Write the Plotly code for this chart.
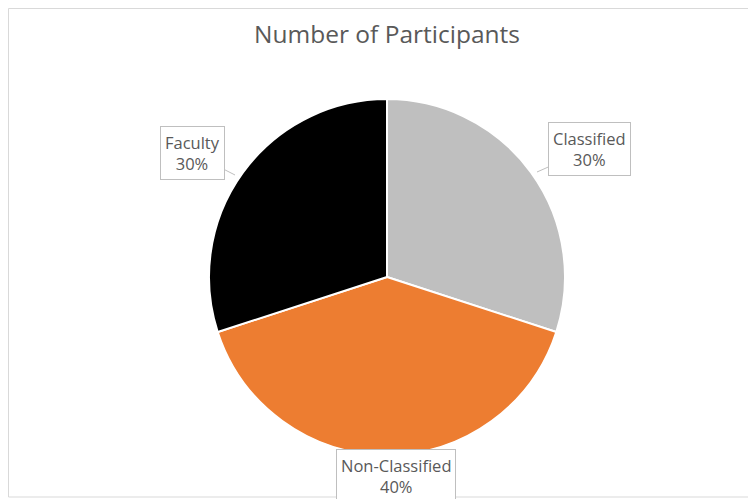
import plotly.graph_objects as go

categories = ["Classified", "Non-Classified", "Faculty"]
values = [30, 40, 30]
colors = ["#BFBFBF", "#ED7D31", "#000000"]
title_text = "Number of Participants"

W, H = 756, 499
OFF = 8  # page body margin offset (px)
cx, cy, r = 387 - OFF, 277 - OFF, 178

def px(x):
    return (x - OFF) / W

def py(y):
    return 1 - (y - OFF) / H

fig = go.Figure(go.Pie(
    labels=categories,
    values=values,
    sort=False,
    direction="clockwise",
    rotation=0,
    marker=dict(colors=colors, line=dict(color="white", width=2)),
    textinfo="none",
    hoverinfo="label+percent",
    showlegend=False,
    domain=dict(x=[(cx - 370) / W, (cx + 370) / W], y=[(H - cy - r) / H, (H - cy + r) / H]),
))

total = sum(values)
FONT = "Open Sans, Lato, sans-serif"
label_pos = {
    "Classified": ((589, 149), (537, 172)),
    "Non-Classified": ((396, 476), None),
    "Faculty": ((192, 153), (235, 175)),
}
for cat, v in zip(categories, values):
    (bx, by), tip = label_pos[cat]
    txt = f"{cat}<br>{round(100 * v / total)}%"
    common = dict(
        text=txt, xref="paper", yref="paper", showarrow=tip is not None,
        font=dict(family=FONT, size=16.5, color="#595959"),
        bgcolor="white", bordercolor="#BFBFBF", borderwidth=1, borderpad=4,
        align="center", xanchor="center", yanchor="middle",
    )
    if tip is None:
        fig.add_annotation(x=px(bx), y=py(by), **common)
    else:
        fig.add_annotation(
            x=px(tip[0]), y=py(tip[1]),
            ax=bx - tip[0], ay=by - tip[1],
            arrowhead=0, arrowwidth=1, arrowcolor="#BFBFBF", standoff=0, startstandoff=0,
            **common,
        )

fig.add_shape(type="rect", xref="paper", yref="paper",
              x0=0.5 / W, x1=1.1, y0=py(497), y1=1 - 0.5 / H,
              line=dict(color="#D9D9D9", width=1), layer="below")

fig.update_layout(
    width=W, height=H,
    margin=dict(l=0, r=0, t=0, b=0),
    paper_bgcolor="white", plot_bgcolor="white",
    title=dict(text=title_text, x=px(387), xanchor="center", y=py(34), yanchor="middle",
               font=dict(family=FONT, size=24.5, color="#595959")),
)

fig.write_html("out.html")
